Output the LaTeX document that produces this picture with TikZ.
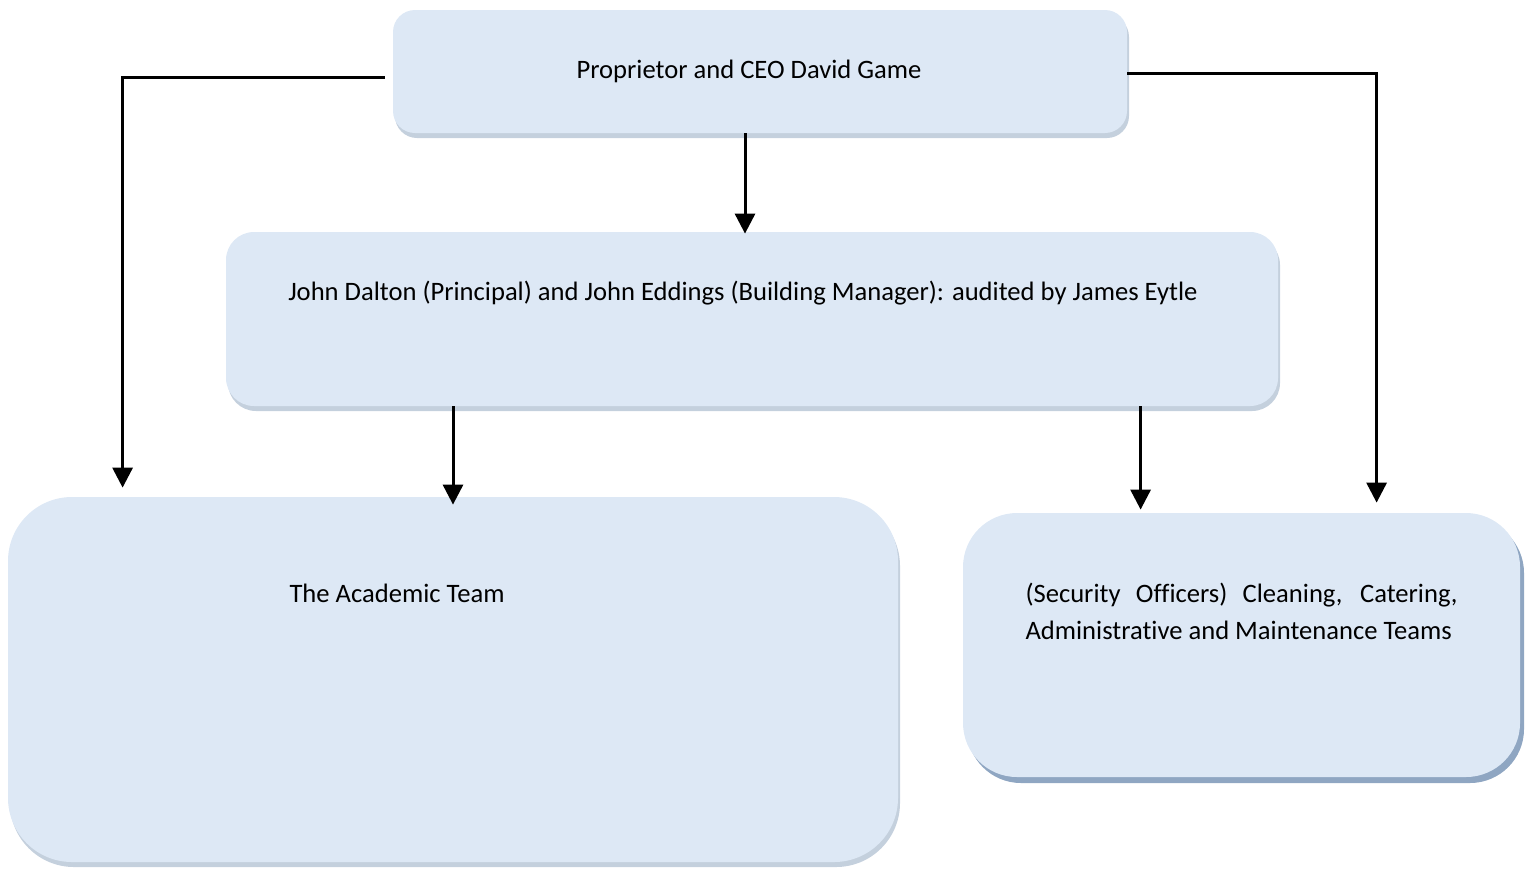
\documentclass[tikz,border=0pt]{standalone}
\usepackage{fontspec}
\setmainfont[Ligatures=NoCommon]{Carlito}
\usetikzlibrary{calc,shadows,arrows.meta}
\definecolor{boxfill}{RGB}{221,232,245}
\definecolor{shadelight}{RGB}{196,208,221}
\definecolor{shadedark}{RGB}{143,166,194}
\tikzset{
	>={Triangle[width=10pt,length=10pt]},
	unit/.style={
		rectangle,
		fill=boxfill,
		inner sep=0pt
	},
	lightshade/.style={general shadow={fill=shadelight, shadow xshift=1pt, shadow yshift=-2.5pt}},
	darkshade/.style={general shadow={fill=shadedark, shadow xshift=2pt, shadow yshift=-3pt}},
	link/.style={->, line width=1.5pt}
}
\begin{document}
\begin{tikzpicture}[x=0.5pt, y=-0.5pt, font=\fontsize{13.3}{18.5}\selectfont]
	\useasboundingbox (0,0) rectangle (1535,869);

	\node[unit, lightshade, minimum width=367pt, minimum height=61.5pt, rounded corners=11pt,
		label={[xshift=-5.5pt]center:Proprietor and CEO David Game}] (ceo) at (760,71.5) {};
	\node[unit, lightshade, minimum width=526pt, minimum height=87pt, rounded corners=14pt,
		label={[xshift=-4.5pt, yshift=13pt]center:John Dalton (Principal) and John Eddings (Building Manager): audited by James Eytle}] (mgmt) at (752,319) {};
	\node[unit, lightshade, minimum width=445pt, minimum height=182.5pt, rounded corners=32pt,
		label={[xshift=-28pt, yshift=43pt]center:The Academic Team}] (academic) at (453,679.5) {};
	\node[unit, darkshade, minimum width=278.5pt, minimum height=132pt, rounded corners=27pt,
		label={[yshift=17pt, text width=216pt, align=justify]center:(Security Officers) Cleaning, Catering, Administrative and Maintenance Teams}] (support) at (1241.5,645) {};

	\draw [link, shorten <=4pt, shorten >=4.5pt] ([yshift=-2.75pt]ceo.west) -| ($(academic.north west)+(57.5pt,0pt)$);
	\draw [link, shorten >=5pt] ([yshift=-0.75pt]ceo.east) -| ($(support.north west)+(207pt,0pt)$);
	\draw [link] ($(ceo.south)+(-7.5pt,0pt)$) -- ($(ceo.south |- mgmt.north)+(-7.5pt,-1pt)$);

	% from the managers down to the two teams
	\draw [link] (academic.north |- mgmt.south) -- ([yshift=-4pt]academic.north);
	\draw [link, shorten >=1.5pt] ($(support.north west |- mgmt.south)+(89pt,0pt)$) -- ($(support.north west)+(89pt,0pt)$);
\end{tikzpicture}
\end{document}
